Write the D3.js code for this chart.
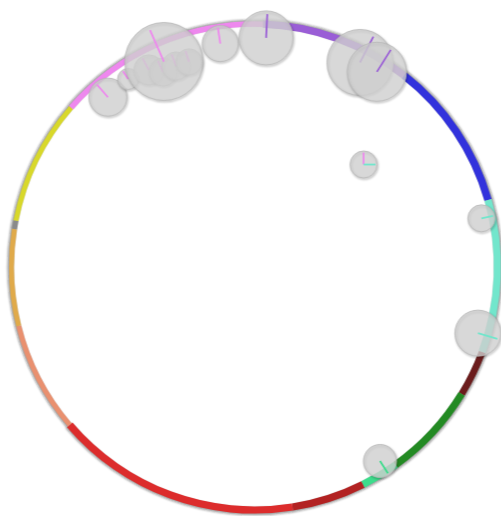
<!DOCTYPE html>
<html>
<head>
<meta charset="utf-8">
<script src="https://cdn.jsdelivr.net/npm/d3@7"></script>
<style>
html,body{margin:0;padding:0;background:#fff;overflow:hidden;}
svg{display:block;}
</style>
</head>
<body>
<script>
// ---- data ----
const categories = ["purple","blue","teal","maroon","green","springgreen","firebrick","red","salmon","orange","grey","yellow","pink"];
const segValues  = [36, 36, 36.5, 11, 23, 9, 17.5, 58.5, 26.5, 23, 2, 30, 51];
const segWeight  = [3, 3.1, 3, 2.8, 3, 3, 3, 3, 2.1, 2.1, 2.1, 2.1, 2.3];
const segColors  = ["#9a5ed6","#3232dc","#72e6cc","#6b1c1c","#238a23","#3ddc8c","#b22222","#dc2c2c","#e9906f","#e0aa4a","#8a8a8a","#d8d82a","#ee88ee"];
const startDeg = 2;

const bubbleNames = ["b1","b2","i1","i2","i3","i4","big","b5","b6","b7","b8","b9","b10","b11","b12"];
const bubbleAngle = [319.2, 326.1, 331.8, 334.9, 338.7, 342.3, 336.2, 351.3, 2.9, 27.3, 32.1, 46.8, 77.9, 106.5, 147.1];
const bubbleDist  = [92.3, 93.2, 92.0, 88.6, 88.8, 88.6, 92.4, 93.0, 94.4, 94.7, 94.8, 61.6, 95.5, 95.9, 95.1];
const bubbleSize  = [22.6, 6.9, 14.1, 12.25, 12.25, 10.6, 95.1, 20.3, 45.6, 68.1, 54.4, 11.4, 11.4, 33.1, 17.0];
// links: category and direction (degrees) for each bubble
const bubbleLinks = [
  [["pink",319.2]],
  [["pink",326.1]],
  [["pink",331.8]],
  [["pink",334.9]],
  [["pink",338.7]],
  [["pink",342.3]],
  [["pink",336.2]],
  [["pink",351.3]],
  [["purple",2.9]],
  [["purple",27.3]],
  [["purple",32.1]],
  [["pink",0],["teal",90]],
  [["teal",77.9]],
  [["teal",106.5]],
  [["springgreen",147.1]]
];

// ---- chart ----
const W = 501, H = 516;
const cx = 254.5, cy = 267, R = 243;
const rad = d => d * Math.PI / 180;

const svg = d3.select("body").append("svg").attr("width", W).attr("height", H);
const defs = svg.append("defs");
defs.append("filter").attr("id","blur").attr("x","-20%").attr("y","-20%").attr("width","140%").attr("height","140%")
  .append("feGaussianBlur").attr("stdDeviation", 1.3);

const g = svg.append("g").attr("transform", `translate(${cx},${cy})`);

const color = d3.scaleOrdinal().domain(categories).range(segColors);
const widthScale = d3.scaleLinear().domain([0, 3]).range([0, 7.2]);
const distScale = d3.scaleLinear().domain([0, 100]).range([0, R]);
const sizeScale = d3.scaleSqrt().domain([0, 100]).range([0, 40]);

const pie = d3.pie().sort(null).value(d => d.v)
  .startAngle(rad(startDeg)).endAngle(rad(startDeg) + 2 * Math.PI);
const segs = pie(categories.map((c, i) => ({c, v: segValues[i], w: segWeight[i]})));

// ring shadow
g.append("g").attr("filter","url(#blur)").selectAll("path").data(segs).join("path")
  .attr("d", d => {
    const w = widthScale(d.data.w);
    return d3.arc().innerRadius(R - w/2 + 1.2).outerRadius(R + w/2 + 1.6)(d);
  })
  .attr("fill", "#222").attr("opacity", 0.45);

// ring
g.append("g").selectAll("path").data(segs).join("path")
  .attr("d", d => {
    const w = widthScale(d.data.w);
    return d3.arc().innerRadius(R - w/2).outerRadius(R + w/2)(d);
  })
  .attr("fill", d => color(d.data.c));

// bubbles
const bubbles = bubbleNames.map((n, i) => {
  const a = rad(bubbleAngle[i]), d = distScale(bubbleDist[i]);
  return {n, x: d * Math.sin(a), y: -d * Math.cos(a), r: sizeScale(bubbleSize[i]), links: bubbleLinks[i]};
});

const bg = g.append("g").selectAll("g").data(bubbles).join("g")
  .attr("transform", d => `translate(${d.x},${d.y})`);

bg.append("circle")
  .attr("cx", 0.8).attr("cy", 1.3)
  .attr("r", d => d.r - 0.5)
  .attr("fill","none").attr("stroke","#000").attr("stroke-opacity",0.28).attr("stroke-width",2)
  .attr("filter","url(#blur)");

bg.append("circle")
  .attr("r", d => d.r)
  .attr("fill","#cecece").attr("fill-opacity",0.8)
  .attr("stroke","#b9b9b9").attr("stroke-width",0.8);

bg.selectAll("line").data(d => d.links.map(l => ({cat: l[0], a: rad(l[1]), r: d.r}))).join("line")
  .attr("x1", 0).attr("y1", 0)
  .attr("x2", l => Math.sin(l.a) * l.r * 0.88)
  .attr("y2", l => -Math.cos(l.a) * l.r * 0.88)
  .attr("stroke", l => color(l.cat))
  .attr("stroke-width", 1.8);
</script>
</body>
</html>
